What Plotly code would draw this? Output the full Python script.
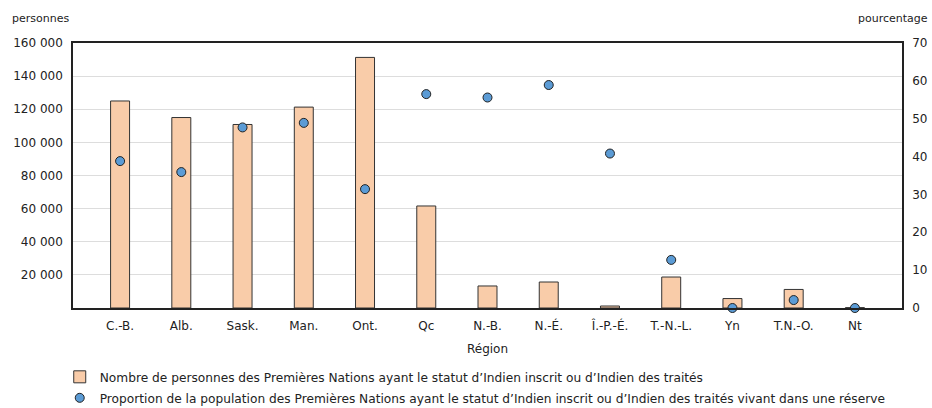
import plotly.graph_objects as go

regions = ["C.-B.", "Alb.", "Sask.", "Man.", "Ont.", "Qc", "N.-B.", "N.-É.", "Î.-P.-É.", "T.-N.-L.", "Yn", "T.N.-O.", "Nt"]
persons = [125000, 115000, 110800, 121300, 151300, 61600, 13300, 15700, 1200, 18700, 5700, 11200, 200]
pct_reserve = [38.8, 35.9, 47.7, 48.9, 31.4, 56.5, 55.6, 58.9, 40.8, 12.7, 0.0, 2.1, 0.0]

left_ticks = [20000, 40000, 60000, 80000, 100000, 120000, 140000, 160000]
left_ticklabels = ["20 000", "40 000", "60 000", "80 000", "100 000", "120 000", "140 000", "160 000"]
right_ticks = [0, 10, 20, 30, 40, 50, 60, 70]

name_bar = "Nombre de personnes des Premières Nations ayant le statut d’Indien inscrit ou d’Indien des traités"
name_dot = "Proportion de la population des Premières Nations ayant le statut d’Indien inscrit ou d’Indien des traités vivant dans une réserve"

font = "DejaVu Sans, Verdana, sans-serif"

fig = go.Figure()
fig.add_trace(go.Bar(
    x=regions, y=persons, name=name_bar, width=0.31, legendgroup="a",
    marker=dict(color="#f9cca9", line=dict(color="#333333", width=1)),
    yaxis="y",
))
fig.add_trace(go.Scatter(
    x=regions, y=pct_reserve, name=name_dot, mode="markers", legendgroup="b",
    marker=dict(color="#5b9bd5", size=9, line=dict(color="#222222", width=1)),
    yaxis="y2", cliponaxis=False,
))

fig.update_layout(
    width=932, height=408,
    margin=dict(l=73, r=30, t=43, b=100, autoexpand=False),
    paper_bgcolor="white", plot_bgcolor="white",
    font=dict(family=font, size=12, color="#222222"),
    showlegend=True,
    legend=dict(x=-0.016, y=-0.205, xanchor="left", yanchor="top",
                orientation="v", font=dict(size=12.2, family=font),
                itemwidth=30, tracegroupgap=2, bgcolor="rgba(0,0,0,0)"),
    xaxis=dict(
        title=dict(text="Région", font=dict(size=12), standoff=12),
        showline=True, linecolor="#222222", linewidth=1.5, mirror=True,
        ticks="", tickfont=dict(size=12), showgrid=False,
        ticklabelstandoff=6,
    ),
    yaxis=dict(
        range=[0, 160000], tickvals=left_ticks, ticktext=left_ticklabels,
        showline=True, linecolor="#222222", linewidth=1.5,
        gridcolor="#dddddd", gridwidth=1, zeroline=False, ticks="",
        tickfont=dict(size=12), ticklabelstandoff=6,
    ),
    yaxis2=dict(
        range=[0, 70], tickvals=right_ticks, overlaying="y", side="right",
        showline=True, linecolor="#222222", linewidth=1.5,
        showgrid=False, zeroline=False, ticks="",
        tickfont=dict(size=12), ticklabelstandoff=6,
    ),
    annotations=[
        dict(text="personnes", xref="paper", yref="paper", x=-0.076, y=1.0,
             xanchor="left", yanchor="bottom", yshift=16, showarrow=False,
             font=dict(size=11)),
        dict(text="pourcentage", xref="paper", yref="paper", x=1.034, y=1.0,
             xanchor="right", yanchor="bottom", yshift=16, showarrow=False,
             font=dict(size=11)),
    ],
)

fig.write_html("out.html", config={"displayModeBar": False},
               post_script="document.body.style.margin='0';document.body.style.overflow='hidden';")
